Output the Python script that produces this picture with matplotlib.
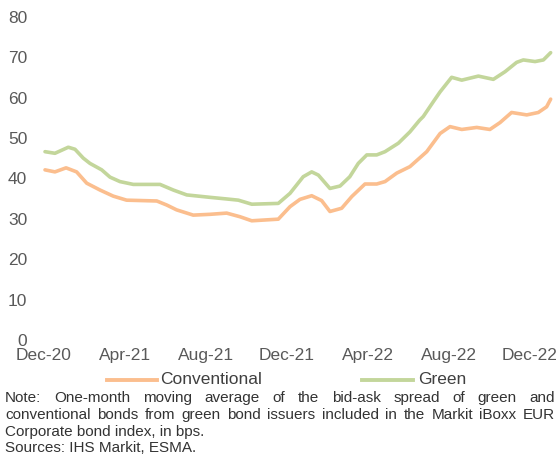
import matplotlib
matplotlib.use("Agg")
import matplotlib.pyplot as plt
from matplotlib.lines import Line2D

plt.rcParams['font.family'] = ['Liberation Sans', 'DejaVu Sans']

# months since Dec-20
green_x = [0.05, 0.54, 1.2, 1.53, 1.94, 2.27, 2.85, 3.26, 3.75, 4.41, 5.73, 6.06, 6.39, 7.05,
           8.2, 9.02, 9.6, 10.26, 11.57, 12.15, 12.8, 13.22, 13.55, 14.12, 14.62, 15.1, 15.52,
           15.94, 16.43, 16.84, 17.5, 18.07, 18.55, 18.73, 19.23, 19.56, 20.13, 20.63, 21.45,
           22.19, 22.77, 23.34, 23.67, 24.25, 24.66, 25.02]
green_y = [46.6, 46.2, 47.7, 47.2, 45.0, 43.7, 42.1, 40.3, 39.2, 38.5, 38.5, 37.8, 37.1, 35.9,
           35.3, 34.9, 34.6, 33.6, 33.8, 36.3, 40.4, 41.6, 40.8, 37.5, 38.1, 40.4, 43.7,
           45.8, 45.8, 46.6, 48.7, 51.5, 54.4, 55.3, 59.0, 61.4, 65.0, 64.3, 65.3,
           64.5, 66.4, 68.7, 69.3, 68.9, 69.3, 71.1]

conv_x = [0.05, 0.54, 1.09, 1.61, 2.11, 2.77, 3.42, 4.08, 5.57, 6.06, 6.55, 7.37, 8.2, 9.02,
          9.68, 10.26, 11.57, 12.15, 12.64, 13.22, 13.71, 14.12, 14.7, 15.2, 15.85, 16.43,
          16.84, 17.42, 18.07, 18.9, 19.56, 20.05, 20.63, 21.37, 22.02, 22.52, 23.09, 23.84,
          24.41, 24.82, 25.02]
conv_y = [42.1, 41.6, 42.6, 41.6, 38.8, 37.1, 35.6, 34.6, 34.4, 33.4, 32.2, 30.9, 31.1, 31.4,
          30.5, 29.5, 29.9, 33.0, 34.8, 35.7, 34.5, 31.8, 32.6, 35.5, 38.6, 38.6,
          39.2, 41.3, 42.9, 46.6, 51.1, 52.8, 52.1, 52.6, 52.1, 53.8, 56.3, 55.7,
          56.3, 57.7, 59.6]

tick_pos = [0, 4, 8, 12, 16, 20, 24]
tick_labels = ["Dec-20", "Apr-21", "Aug-21", "Dec-21", "Apr-22", "Aug-22", "Dec-22"]
y_ticks = [0, 10, 20, 30, 40, 50, 60, 70, 80]

note_lines = [
    "Note: One-month moving average of the bid-ask spread of green and",
    "conventional bonds from green bond issuers included in the Markit iBoxx EUR",
    "Corporate bond index, in bps.",
    "Sources: IHS Markit, ESMA.",
]

W, H = 560, 459
fig = plt.figure(figsize=(5.6, 4.59), dpi=100)
ax = fig.add_axes([44 / W, 1 - 340 / H, (553 - 44) / W, (340 - 16.7) / H])

orange = "#FBBE8E"
green = "#C3D69B"
ax.plot(conv_x, conv_y, color=orange, lw=2.6, clip_on=False, solid_capstyle='round')
ax.plot(green_x, green_y, color=green, lw=2.6, clip_on=False, solid_capstyle='round')

ax.set_xlim(0, (553 - 44) / 20.25)
ax.set_ylim(0, 80)
ax.set_yticks(y_ticks)
ax.set_xticks(tick_pos)
ax.set_xticklabels(tick_labels)
for s in ax.spines.values():
    s.set_visible(False)
ax.tick_params(axis='both', length=0, labelsize=12.5, colors="#595959")
ax.tick_params(axis='y', pad=12)
ax.tick_params(axis='x', pad=6)

# legend
ly = 1 - 380 / H
fig.add_artist(Line2D([107 / W, 157 / W], [ly, ly], color=orange, lw=2.8))
fig.text(160 / W, ly, "Conventional", fontsize=12.5, color="#404040", va='center', ha='left')
fig.add_artist(Line2D([362 / W, 413 / W], [ly, ly], color=green, lw=2.8))
fig.text(418 / W, ly, "Green", fontsize=12.5, color="#404040", va='center', ha='left')

# notes
note_fs = 11
note_color = "#333333"
ys = [398, 415, 432, 448]
fig.canvas.draw()
renderer = fig.canvas.get_renderer()
for i, (line, ypx) in enumerate(zip(note_lines, ys)):
    yf = 1 - ypx / H
    if i < 2:
        words = line.split()
        texts = [fig.text(0, yf, w, fontsize=note_fs, color=note_color, va='center', ha='left')
                 for w in words]
        widths = [t.get_window_extent(renderer).width for t in texts]
        x0, x1 = 5, 555
        gap = (x1 - x0 - sum(widths)) / (len(words) - 1)
        pos = x0
        for t, w in zip(texts, widths):
            t.set_x(pos / W)
            pos += w + gap
    else:
        fig.text(5 / W, yf, line, fontsize=note_fs, color=note_color, va='center', ha='left')

fig.savefig("out.png", dpi=100)
